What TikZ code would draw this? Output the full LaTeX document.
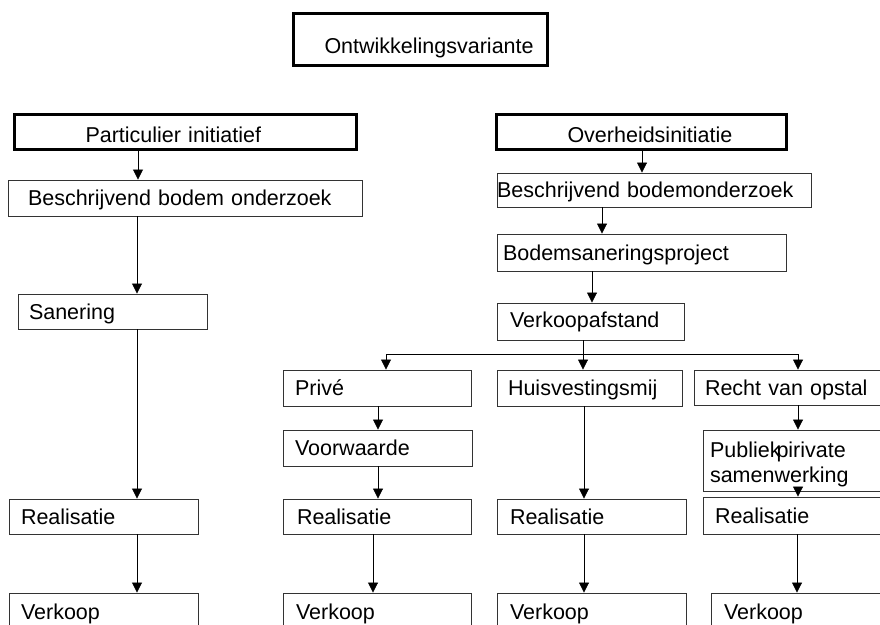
\documentclass[tikz,border=0pt]{standalone}
\usepackage{fontspec}
\setmainfont{Liberation Sans}
\usetikzlibrary{arrows.meta}
\begin{document}
\begin{tikzpicture}[x=1pt,y=-1pt,
  every node/.style={font=\fontsize{21.5pt}{24.5pt}\selectfont},
  thinbox/.style={draw=black!80,line width=0.9pt,rectangle,inner ysep=0pt,align=left,text height=18pt,text depth=2.6pt},
  thickbox/.style={draw=black,line width=3pt,rectangle,inner ysep=0pt,align=left},
  arr/.style={draw=black,line width=0.8pt,-{Triangle[width=10pt,length=10pt]}},
  ln/.style={draw=black,line width=0.8pt}]
\useasboundingbox (0,0) rectangle (880,624);
\clip (0,0) rectangle (880,624);
% thick headers
\node[thickbox,minimum width=254pt,minimum height=52pt,inner xsep=31pt,text width=192pt,text height=32pt,text depth=4.6pt] (top) at (420.5,39.5) {Ontwikkelingsvariante};
\node[thickbox,minimum width=342pt,minimum height=35pt,inner xsep=71pt,text width=200pt,text height=26pt,text depth=3.6pt] (part) at (185.5,131.5) {Particulier initiatief};
\node[thickbox,minimum width=290pt,minimum height=35pt,inner xsep=71pt,text width=148pt,text height=26pt,text depth=3.6pt] (over) at (641.5,131.5) {Overheidsinitiatie};
% left column
\node[thinbox,minimum width=354pt,minimum height=36pt,inner xsep=20pt,text width=314pt] (besL) at (185,198) {Beschrijvend bodem onderzoek};
\node[thinbox,minimum width=189pt,minimum height=35pt,inner xsep=11pt,text width=167pt] (sanL) at (112.5,311.5) {Sanering};
\node[thinbox,minimum width=189pt,minimum height=35pt,inner xsep=12pt,text width=165pt] (realL) at (103.5,516.5) {Realisatie};
\node[thinbox,minimum width=189pt,minimum height=37pt,inner xsep=12pt,text width=165pt] (verkL) at (103.5,611.5) {Verkoop};
% right column
\node[thinbox,minimum width=314pt,minimum height=34pt,inner xsep=0pt,text width=314pt] (besR) at (654,190) {Beschrijvend bodemonderzoek};
\node[thinbox,minimum width=289pt,minimum height=37pt,inner xsep=6pt,text width=277pt] (bodR) at (641.5,252.5) {Bodemsaneringsproject};
\node[thinbox,minimum width=187pt,minimum height=37pt,inner xsep=13pt,text width=161pt,text height=19pt,text depth=7pt] (vkaf) at (590.5,321.5) {Verkoopafstand};
\node[thinbox,minimum width=188pt,minimum height=36pt,inner xsep=12pt,text width=164pt] (prive) at (377,388) {Privé};
\node[thinbox,minimum width=185pt,minimum height=36pt,inner xsep=11pt,text width=163pt] (huis) at (589.5,388) {Huisvestingsmij};
\node[thinbox,minimum width=200pt,minimum height=35pt,inner xsep=11pt,text width=178pt] (recht) at (794,387.5) {Recht van opstal};
\node[thinbox,minimum width=189pt,minimum height=36pt,inner xsep=12pt,text width=165pt] (voor) at (377.5,448) {Voorwaarde};
\node[thinbox,minimum width=191pt,minimum height=61pt,inner xsep=7pt,text width=177pt,text height=20pt,text depth=26pt] (publ) at (798.5,460.5) {Publiek\hspace{-4pt}pirivate\\samenwerking};
\node[thinbox,minimum width=188pt,minimum height=35pt,inner xsep=14pt,text width=160pt] (real2) at (377,516.5) {Realisatie};
\node[thinbox,minimum width=189pt,minimum height=35pt,inner xsep=13pt,text width=163pt] (real3) at (591.5,516.5) {Realisatie};
\node[thinbox,minimum width=191pt,minimum height=37pt,inner xsep=12pt,text width=167pt] (real4) at (798.5,515.5) {Realisatie};
\node[thinbox,minimum width=188pt,minimum height=37pt,inner xsep=13pt,text width=162pt] (verk2) at (377,611.5) {Verkoop};
\node[thinbox,minimum width=189pt,minimum height=37pt,inner xsep=13pt,text width=163pt] (verk3) at (591.5,611.5) {Verkoop};
\node[thinbox,minimum width=183pt,minimum height=37pt,inner xsep=13pt,text width=157pt] (verk4) at (802.5,611.5) {Verkoop};
% junction coordinates
\coordinate (junc) at (583,354);
\coordinate (jl) at (386,354);
\coordinate (jr) at (798,354);
% left connectors
\draw[arr] (138,0 |- part.south) -- (138,0 |- besL.north);
\draw[arr] (137,0 |- besL.south) -- (137,0 |- sanL.north);
\draw[arr] (137,0 |- sanL.south) -- (137,0 |- realL.north);
\draw[arr] (137,0 |- realL.south) -- (137,0 |- verkL.north);
% right connectors
\draw[arr] (642,0 |- over.south) -- (642,0 |- besR.north);
\draw[arr] (602,0 |- besR.south) -- (602,0 |- bodR.north);
\draw[arr] (592,0 |- bodR.south) -- (592,0 |- vkaf.north);
\draw[ln] (583,0 |- vkaf.south) -- (junc);
\draw[ln] (jl) -- (jr);
\draw[arr] (jl) -- (jl |- prive.north);
\draw[arr] (junc) -- (junc |- huis.north);
\draw[arr] (jr) -- (jr |- recht.north);
\draw[arr] (378,0 |- prive.south) -- (378,0 |- voor.north);
\draw[arr] (378,0 |- voor.south) -- (378,0 |- real2.north);
\draw[arr] (373,0 |- real2.south) -- (373,0 |- verk2.north);
\draw[arr] (584,0 |- huis.south) -- (584,0 |- real3.north);
\draw[arr] (584,0 |- real3.south) -- (584,0 |- verk3.north);
\draw[arr] (798,0 |- recht.south) -- (798,0 |- publ.north);
\draw[arr] (798,0 |- publ.south) -- (798,0 |- real4.north);
\draw[arr] (797,0 |- real4.south) -- (797,0 |- verk4.north);
\end{tikzpicture}
\end{document}
